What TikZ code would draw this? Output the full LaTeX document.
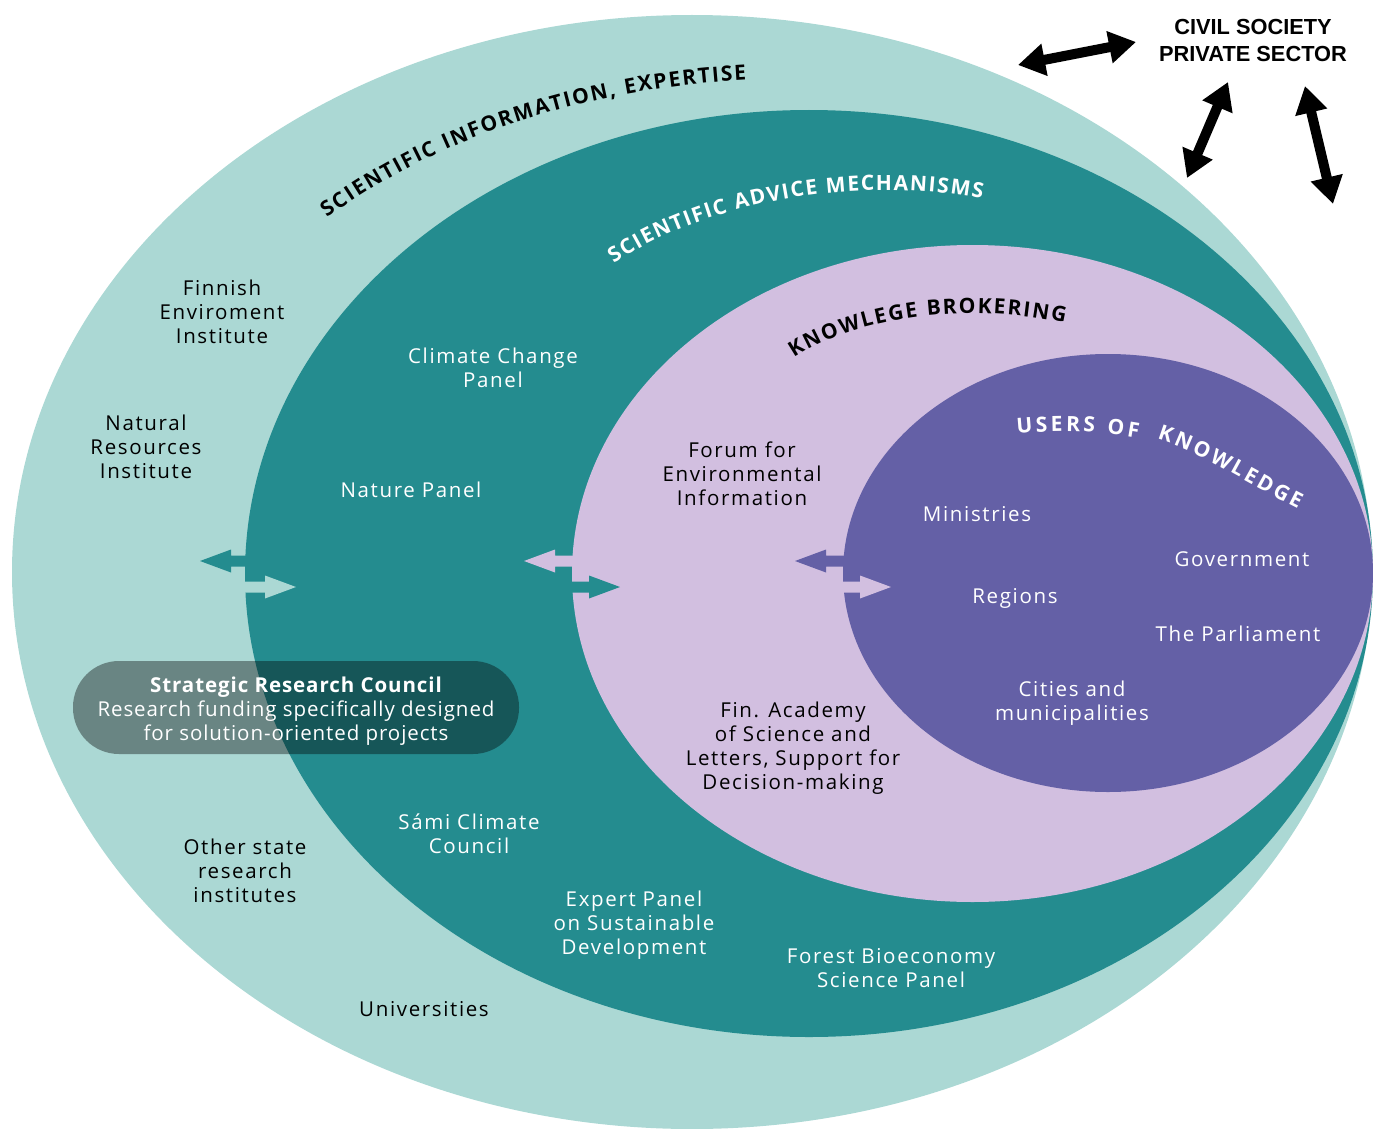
\documentclass[tikz,border=0pt]{standalone}
\usepackage{fontspec}
\setmainfont{Open Sans}[LetterSpace=8]
\newfontfamily\capsfont{Open Sans}[LetterSpace=0]
\newfontfamily\fundfont{Open Sans}[LetterSpace=4.5]
\newfontfamily\sectorfont{Liberation Sans}
\usetikzlibrary{decorations.text,arrows.meta}

\definecolor{outerring}{HTML}{ABD8D4}
\definecolor{advice}{HTML}{248C8F}
\definecolor{broker}{HTML}{D2BFE0}
\definecolor{users}{HTML}{6460A6}

\newcommand\lblfont{\fontsize{20.5}{24}\selectfont}
\newcommand\ringfont{\capsfont\bfseries\fontsize{21}{21}\selectfont}

% pair of opposite arrows crossing a ring boundary:
% #1 boundary x, #2 tip of left arrow, #3 tip of right arrow, #4/#5 colours
\newcommand\twoway[5]{%
  \fill[#4] (#1+8,555.5) -- (#2+31,555.5) -- (#2+31,549.5) -- (#2,561)
    -- (#2+31,572.5) -- (#2+31,566.5) -- (#1+8,566.5) -- cycle;
  \fill[#5] (#1-8,581.5) -- (#3-31,581.5) -- (#3-31,575.5) -- (#3,587)
    -- (#3-31,598.5) -- (#3-31,592.5) -- (#1-8,592.5) -- cycle;
}

\begin{document}
\begin{tikzpicture}[x=1pt,y=-1pt,
  lbl/.style={align=center,font=\lblfont,text=black,inner sep=0pt},
  wlbl/.style={lbl,text=white},
  ringtext/.style={decorate,decoration={text along path,
      text align={fit to path},text color=#1}},
  bigarrow/.style={line width=10pt,
      {Triangle[length=27pt,width=31pt]}-{Triangle[length=27pt,width=31pt]}}]

\path[use as bounding box] (0,0) rectangle (1373,1129);
\clip (0,0) rectangle (1373,1129);

% nested rings
\fill[outerring] (692,572) ellipse [x radius=680,y radius=557];
\fill[advice]    (809,573.5) ellipse [x radius=564,y radius=463.5];
\fill[broker]    (972.5,573.5) ellipse [x radius=400.5,y radius=328.5];
\fill[users]     (1108,573) ellipse [x radius=265,y radius=219];

% exchange arrows across each boundary
\twoway{246}{200}{296}{advice}{outerring}
\twoway{573}{524}{620}{broker}{advice}
\twoway{843}{795}{891}{users}{broker}

% ring titles
\path[ringtext=black,decoration={text={|\ringfont|SCIENTIFIC INFORMATION, EXPERTISE}}]
  (327,218) .. controls (420,150) and (560,90) .. (746,80);
\path[ringtext=white,decoration={text={|\ringfont|SCIENTIFIC ADVICE MECHANISMS}}]
  (614,264) .. controls (690,210) and (840,172) .. (982,199);
\path[ringtext=black,decoration={text={|\ringfont|KNOWLEGE BROKERING}}]
  (794,358) .. controls (850,320) and (960,300) .. (1065,323);
\path[ringtext=white,decoration={text={|\ringfont|USERS OF}}]
  (1017,434) .. controls (1060,430) and (1100,431) .. (1138,438);
\path[ringtext=white,decoration={text={|\ringfont|KNOWLEDGE}}]
  (1157,439) .. controls (1200,452) and (1250,485) .. (1298,509);

% outside actors
\node[align=center,inner sep=0pt,font=\sectorfont\bfseries\fontsize{21.8}{27}\selectfont]
  (sector) at (1253,40.5) {CIVIL SOCIETY\\PRIVATE SECTOR};
\coordinate (a1s) at (1018,65);  \coordinate (a1e) at (1136,42);
\coordinate (a2s) at (1187,178); \coordinate (a2e) at (1228,82);
\coordinate (a3s) at (1305,86);  \coordinate (a3e) at (1333,204);
\draw[bigarrow] (a1s) -- (a1e);
\draw[bigarrow] (a2s) -- (a2e);
\draw[bigarrow] (a3s) -- (a3e);

% scientific information, expertise
\node[lbl] (syke) at (222,312) {Finnish\\Enviroment\\Institute};
\node[lbl] (luke) at (146,447) {Natural\\Resources\\Institute};
\node[lbl] (other) at (245,871) {Other state\\research\\institutes};
\node[lbl] (univ) at (424,1009) {Universities};

% scientific advice mechanisms
\node[wlbl] (ccp) at (493,368) {Climate Change\\Panel};
\node[wlbl] (nature) at (411,490) {Nature Panel};
\node[wlbl] (sami) at (469,834) {Sámi Climate\\Council};
\node[wlbl] (sustain) at (634,925) {Expert Panel\\on Sustainable\\Development};
\node[wlbl] (forest) at (891,968) {Forest Bioeconomy\\Science Panel};

% knowledge brokering
\node[lbl] (forum) at (742,474) {Forum for\\Environmental\\Information};
\node[lbl] (academy) at (793,748) {Fin. Academy\\of Science and\\Letters, Support for\\Decision-making};

% users of knowledge
\node[wlbl] (min) at (977,514) {Ministries};
\node[wlbl] (gov) at (1242,559) {Government};
\node[wlbl] (reg) at (1015,598) {Regions};
\node[wlbl] (parl) at (1238,634) {The Parliament};
\node[wlbl] (cities) at (1072,703) {Cities and\\municipalities};

% funding body spanning the two outer rings
\fill[black,opacity=.38,rounded corners=46pt] (73,661) rectangle (519,754);
\node[wlbl,font=\fundfont\lblfont] (src) at (296,711)
  {{\bfseries Strategic Research Council}\\Research funding specifically designed\\for solution-oriented projects};

\end{tikzpicture}
\end{document}
